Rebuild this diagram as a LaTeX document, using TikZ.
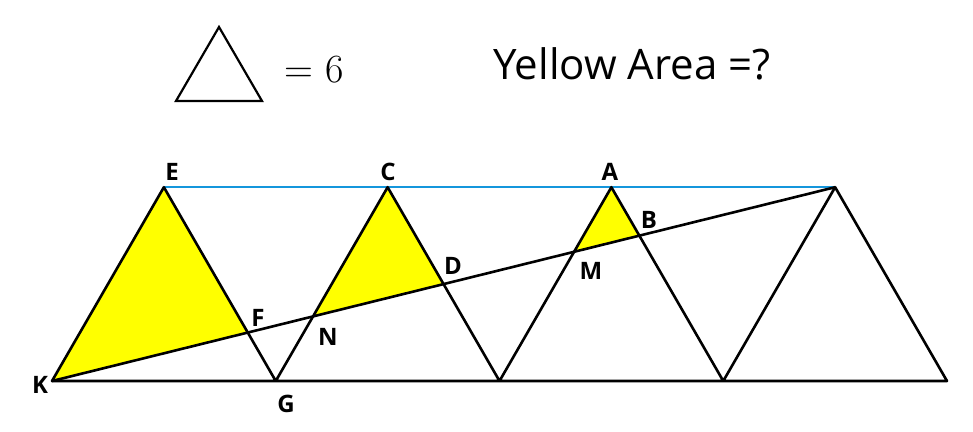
\documentclass[tikz,border=0pt]{standalone}
\usepackage{fontspec}
\setsansfont{Open Sans}
\usetikzlibrary{calc}
\definecolor{ylw}{RGB}{255,255,0}
\definecolor{blu}{RGB}{20,150,220}
\tikzset{edge/.style={line width=2.6pt,line join=round},
lab/.style={font=\sffamily\bfseries\fontsize{24}{24}\selectfont}}
\begin{document}
\begin{tikzpicture}[x=1pt,y=-1pt]
\useasboundingbox (0,0) rectangle (973,431);
\def\s{223.75}\def\h{193.8}
\coordinate (K) at (52,381);
\coordinate (G) at ({52+\s},381);
\coordinate (B2) at ({52+2*\s},381);
\coordinate (B3) at ({52+3*\s},381);
\coordinate (B4) at ({52+4*\s},381);
\coordinate (E) at ({52+0.5*\s},{381-\h});
\coordinate (C) at ({52+1.5*\s},{381-\h});
\coordinate (A) at ({52+2.5*\s},{381-\h});
\coordinate (P) at ({52+3.5*\s},{381-\h});
\coordinate (F) at ($(K)!0.25!(P)$);
\coordinate (N) at ($(K)!{1/3}!(P)$);
\coordinate (D) at ($(K)!0.5!(P)$);
\coordinate (M) at ($(K)!{2/3}!(P)$);
\coordinate (B) at ($(K)!0.75!(P)$);
\fill[ylw] (K)--(E)--(F)--cycle;
\fill[ylw] (N)--(C)--(D)--cycle;
\fill[ylw] (M)--(A)--(B)--cycle;
\draw[blu,line width=2.4pt] (E)--(P);
\draw[edge] (K)--(B4)--(P)--(B3)--(A)--(B2)--(C)--(G)--(E)--(K)--cycle;
\draw[edge] (K)--(P);
\node[lab] at (172,172) {E};
\node[lab] at (388,172) {C};
\node[lab] at (610,172) {A};
\node[lab] at (649,220) {B};
\node[lab] at (453,266) {D};
\node[lab] at (591,271) {M};
\node[lab] at (258,318) {F};
\node[lab] at (328,337) {N};
\node[lab] at (40,385) {K};
\node[lab] at (286,404) {G};
\coordinate (t1) at (176,101); \coordinate (t2) at (262,101); \coordinate (t3) at (219,27);
\draw[line width=2.2pt,line join=miter] (t1)--(t2)--(t3)--cycle;
\node[font=\rmfamily\fontsize{40}{40}\selectfont] (eq) at (314,70) {= 6};
\node[font=\sffamily\fontsize{42}{42}\selectfont] (ya) at (632,64) {Yellow Area =?};
\end{tikzpicture}
\end{document}
